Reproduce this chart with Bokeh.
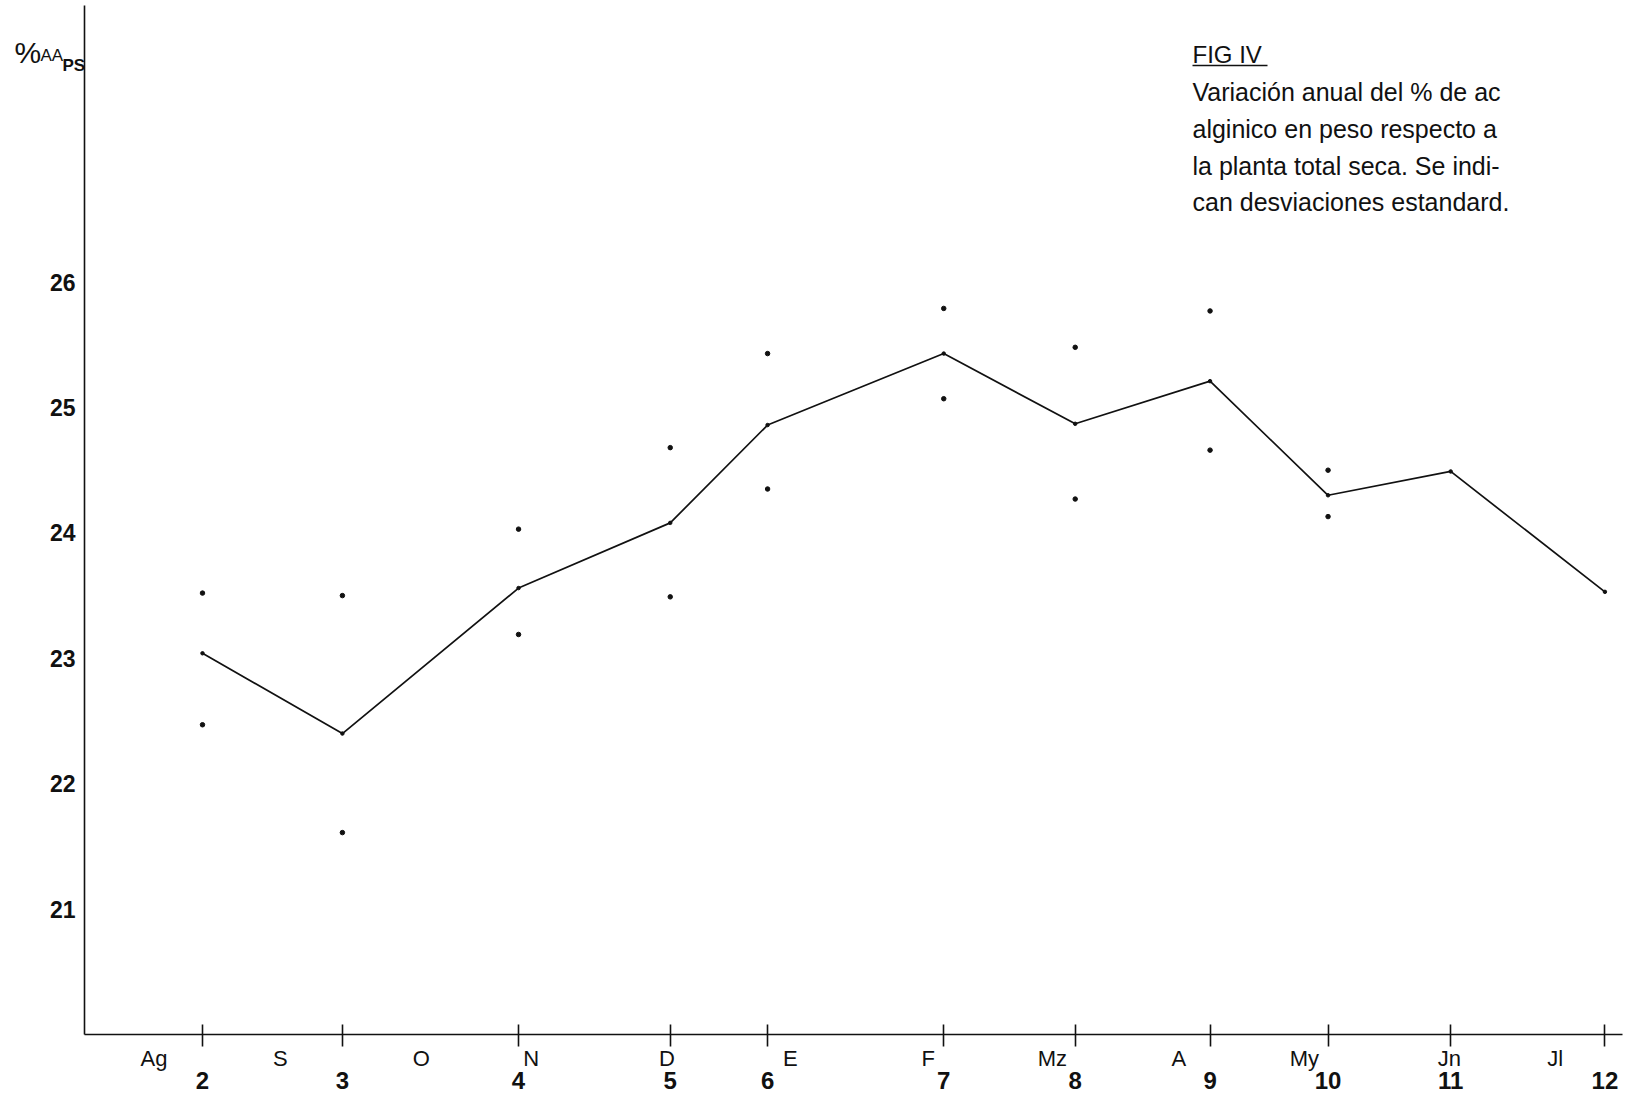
from bokeh.plotting import figure
from bokeh.models import Range1d, FixedTicker, LinearAxis, Label, ColumnDataSource
from bokeh.core.properties import value
from bokeh.embed import file_html
from bokeh.resources import INLINE
import math

# ---------------- data ----------------
sample_numbers = ["2", "3", "4", "5", "6", "7", "8", "9", "10", "11", "12"]
sample_day = [28.0, 61.2, 103.0, 139.0, 162.1, 203.9, 235.1, 267.1, 295.1, 324.2, 360.8]  # days from 1 Aug
mean_pct = [23.04, 22.40, 23.56, 24.08, 24.86, 25.43, 24.87, 25.21, 24.30, 24.49, 23.53]
sd_upper = [23.52, 23.50, 24.03, 24.68, 25.43, 25.79, 25.48, 25.77, 24.50, float("nan"), float("nan")]
sd_lower = [22.47, 21.61, 23.19, 23.49, 24.35, 25.07, 24.27, 24.66, 24.13, float("nan"), float("nan")]

month_labels = ["Ag", "S", "O", "N", "D", "E", "F", "Mz", "A", "My", "Jn", "Jl"]
month_label_day = [16.5, 46.5, 79.9, 106.0, 138.2, 167.5, 200.2, 229.7, 259.7, 289.5, 323.9, 349.0]

y_ticks = [21, 22, 23, 24, 25, 26]

caption_title = "FIG IV"
caption_lines = [
    "Variación anual del % de ac",
    "alginico en peso respecto a",
    "la planta total seca. Se indi-",
    "can desviaciones estandard.",
]

# ---------------- geometry (page pixels -> data) ----------------
W, H = 1625, 1096
AX_X = 84.0        # page x of y-axis (day 0)
AX_Y = 1034.0      # page y of x-axis (value 20)
PX_PER_DAY = 4.214
PX_PER_UNIT = 125.4
LABEL_DY = -8      # Label annotations render a little lower than their anchor


def px_to_day(page_x):
    return (page_x - AX_X) / PX_PER_DAY


def py_to_val(page_y):
    return 20.0 + (AX_Y - page_y) / PX_PER_UNIT


def label_y(page_y):
    return py_to_val(page_y + LABEL_DY)


p = figure(width=W, height=H, output_backend="svg", toolbar_location=None,
           x_range=Range1d(px_to_day(0), px_to_day(W)),
           y_range=Range1d(py_to_val(H), py_to_val(0)),
           x_axis_location=None, y_axis_location=None,
           min_border=0, min_border_left=0, min_border_right=0,
           min_border_top=0, min_border_bottom=0)
p.outline_line_color = None
p.xgrid.visible = False
p.ygrid.visible = False
p.background_fill_color = "white"
p.border_fill_color = "white"

INK = "#111111"

# y axis
yax = LinearAxis(ticker=FixedTicker(ticks=y_ticks), fixed_location=0,
                 bounds=(20, py_to_val(5)))
yax.axis_line_color = INK
yax.axis_line_width = 1.6
yax.major_tick_line_color = None
yax.major_tick_in = 0
yax.major_tick_out = 0
yax.minor_tick_line_color = None
yax.minor_tick_in = 0
yax.minor_tick_out = 0
yax.major_label_standoff = 9
yax.major_label_text_font = "Liberation Sans"
yax.major_label_text_font_style = "bold"
yax.major_label_text_font_size = "23px"
yax.major_label_text_color = INK
p.add_layout(yax, "left")

# x axis (ticks at sampling dates, numbered samples)
xax = LinearAxis(ticker=FixedTicker(ticks=sample_day), fixed_location=20,
                 bounds=(0, px_to_day(1622)))
xax.major_label_overrides = {d: n for d, n in zip(sample_day, sample_numbers)}
xax.axis_line_color = INK
xax.axis_line_width = 1.6
xax.major_tick_line_color = INK
xax.major_tick_line_width = 1.6
xax.major_tick_in = 10
xax.major_tick_out = 12
xax.minor_tick_line_color = None
xax.major_label_standoff = 25
xax.major_label_text_font = "Liberation Sans"
xax.major_label_text_font_style = "bold"
xax.major_label_text_font_size = "24px"
xax.major_label_text_color = INK
p.add_layout(xax, "below")

# data
p.line(sample_day, mean_pct, line_color=INK, line_width=1.7)
p.scatter(sample_day, mean_pct, size=3.5, color=INK)

sd_x, sd_y = [], []
for d, u, l in zip(sample_day, sd_upper, sd_lower):
    if not math.isnan(u):
        sd_x.append(d); sd_y.append(u)
    if not math.isnan(l):
        sd_x.append(d); sd_y.append(l)
p.scatter(sd_x, sd_y, size=4.5, color=INK)

# month labels under the axis
mon_src = ColumnDataSource(dict(x=month_label_day, y=[py_to_val(1058)] * len(month_label_day),
                                t=month_labels))
p.text(x="x", y="y", text="t", source=mon_src, text_align="center", text_baseline="middle",
       text_font=value("Liberation Sans"), text_font_size="22px", text_color=INK)

# y axis title  %AA_PS
p.add_layout(Label(x=px_to_day(14), y=label_y(60), text="%", text_font="Liberation Sans",
                   text_font_size="30px", text_baseline="alphabetic", text_color=INK))
p.add_layout(Label(x=px_to_day(40), y=label_y(63), text="AA", text_font="Liberation Sans",
                   text_font_size="17px", text_baseline="alphabetic", text_color=INK))
p.add_layout(Label(x=px_to_day(62), y=label_y(73), text="PS", text_font="Liberation Sans",
                   text_font_size="17px", text_font_style="bold", text_baseline="alphabetic",
                   text_color=INK))

# caption
p.add_layout(Label(x=px_to_day(1192), y=label_y(62), text=caption_title, text_font="Liberation Sans",
                   text_font_size="24px", text_baseline="alphabetic", text_color=INK))
p.segment(x0=[px_to_day(1192)], y0=[py_to_val(65)], x1=[px_to_day(1267)], y1=[py_to_val(65)],
          line_color=INK, line_width=1.5)
baselines = [99, 136, 173, 209]
for line_text, by in zip(caption_lines, baselines):
    p.add_layout(Label(x=px_to_day(1192), y=label_y(by), text=line_text, text_font="Liberation Sans",
                       text_font_size="25px", text_baseline="alphabetic", text_color=INK))

open("out.html", "w").write(file_html(p, INLINE))
